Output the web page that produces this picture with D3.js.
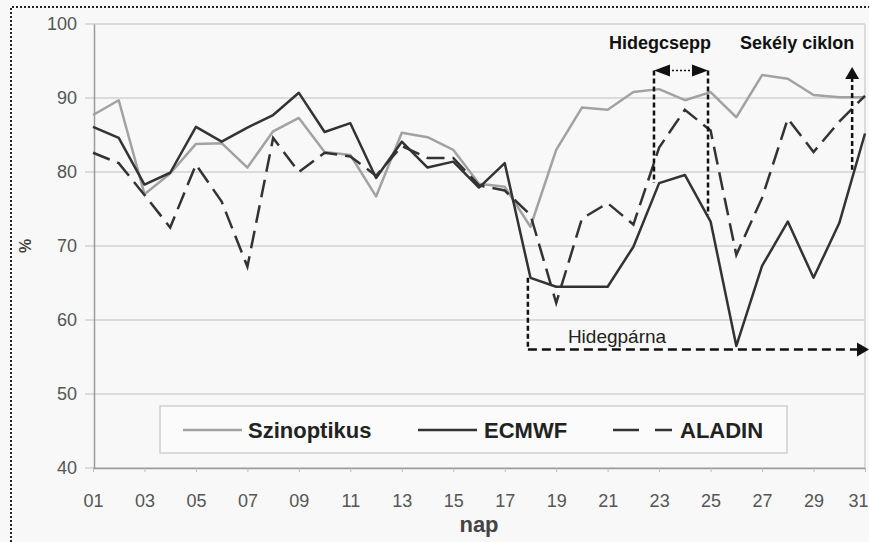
<!DOCTYPE html>
<html>
<head>
<meta charset="utf-8">
<script src="https://cdn.jsdelivr.net/npm/d3@7/dist/d3.min.js"></script>
<style>
  body { margin: 0; background: #f8f8f8; }
  text { font-family: "Liberation Sans", Arial, sans-serif; }
</style>
</head>
<body>
<script>
'use strict';

// napok (x kategóriák)
let days = [1, 2, 3, 4, 5, 6, 7, 8, 9, 10, 11, 12, 13, 14, 15, 16,
            17, 18, 19, 20, 21, 22, 23, 24, 25, 26, 27, 28, 29, 30, 31];
let dayTicks = [1, 3, 5, 7, 9, 11, 13, 15, 17, 19, 21, 23, 25, 27, 29, 31];
let yTicks = [40, 50, 60, 70, 80, 90, 100];

let szinoptikus = [87.7, 89.7, 77.0, 79.8, 83.8, 83.9, 80.6, 85.5, 87.3, 82.7, 82.3,
                   76.7, 85.3, 84.7, 83.0, 78.4, 78.0, 72.6, 83.0, 88.7, 88.4, 90.8,
                   91.2, 89.7, 90.8, 87.4, 93.1, 92.6, 90.4, 90.1, 90.1];
let ecmwf = [86.1, 84.6, 78.3, 79.9, 86.1, 84.1, 86.0, 87.7, 90.7, 85.4, 86.6,
             79.2, 84.1, 80.6, 81.4, 77.9, 81.2, 65.7, 64.5, 64.5, 64.5, 69.9,
             78.5, 79.6, 73.3, 56.5, 67.3, 73.3, 65.7, 73.1, 85.2];
let aladin = [82.6, 81.2, 76.9, 72.5, 81.0, 76.0, 67.2, 84.6, 80.0, 82.6, 82.1,
              79.5, 83.5, 81.9, 81.9, 78.2, 77.5, 74.2, 62.3, 73.7, 75.8, 72.9,
              83.3, 88.4, 85.6, 68.8, 76.5, 87.2, 82.7, 86.8, 90.3];

// megjegyzések: [nap, érték]
let hidegcsepp = [[22.8, 93.7, 78.5], [24.9, 93.7, 74.2]];
let sekelyCiklon = [30.5, 94.2, 80.3];
let hidegparna = [17.9, 65.7, 56.0, 31.0];

let width = 869,
    height = 542,
    mLeft = 93, mRight = 865, mTop = 24, mBottom = 468;

let svg = d3.select("body").append("svg")
            .attr("width", width)
            .attr("height", height);

// szaggatott keret a kép szélén
svg.append("path")
    .attr("d", "M11,542 L11,7 L869,7")
    .style("fill", "none")
    .style("stroke", "#222")
    .style("stroke-width", 2)
    .style("stroke-dasharray", "2,2");

let x = d3.scaleLinear().domain([1, 31]).range([mLeft, mRight]),
    y = d3.scaleLinear().domain([40, 100]).range([mBottom, mTop]);

// rácsvonalak
svg.append("g")
  .selectAll("line")
  .data(yTicks)
  .join("line")
    .attr("x1", mLeft - 8)
    .attr("x2", mRight)
    .attr("y1", d => y(d))
    .attr("y2", d => y(d))
    .style("stroke", "#d2d2d2")
    .style("stroke-width", 1.5);

svg.append("line")
    .attr("x1", mRight).attr("x2", mRight)
    .attr("y1", y(100)).attr("y2", y(40))
    .style("stroke", "#d2d2d2")
    .style("stroke-width", 1.5);

let yAxis = svg.append("g")
    .attr("transform", `translate(${mLeft + 1},0)`)
    .call(d3.axisLeft(y).tickValues(yTicks).tickSize(0).tickPadding(17));
yAxis.select(".domain").style("stroke", "#9a9a9a").style("stroke-width", 1.5);
yAxis.selectAll("text")
    .style("font-size", "18px")
    .style("fill", "#555");

let xAxis = svg.append("g")
    .attr("transform", `translate(0,${mBottom})`)
    .call(d3.axisBottom(x)
            .tickValues(dayTicks)
            .tickFormat(d3.format("02"))
            .tickSizeInner(4)
            .tickSizeOuter(0)
            .tickPadding(22));
xAxis.select(".domain").style("stroke", "#9a9a9a").style("stroke-width", 1.5);
xAxis.selectAll("line").style("stroke", "#bbb");
xAxis.selectAll("text")
    .style("font-size", "18px")
    .style("fill", "#555");
// az utolsó felirat a szélen
xAxis.selectAll("text")
    .filter(d => d === 31)
    .attr("text-anchor", "end")
    .attr("x", 3);

svg.append("text")
    .attr("x", x(16))
    .attr("y", 532)
    .attr("text-anchor", "middle")
    .style("font-size", "22px")
    .style("font-weight", "bold")
    .style("fill", "#444")
    .text("nap");

svg.append("text")
    .attr("transform", `translate(31,${y(70)}) rotate(-90)`)
    .attr("text-anchor", "middle")
    .style("font-size", "16px")
    .style("font-weight", "bold")
    .style("fill", "#444")
    .text("%");

// adatsorok
let line = d3.line()
    .x((d, i) => x(days[i]))
    .y(d => y(d));

svg.append("path")
    .datum(szinoptikus)
    .attr("d", line)
    .style("fill", "none")
    .style("stroke", "#a2a2a2")
    .style("stroke-width", 2.5)
    .style("stroke-linejoin", "round");

svg.append("path")
    .datum(ecmwf)
    .attr("d", line)
    .style("fill", "none")
    .style("stroke", "#333")
    .style("stroke-width", 2.5)
    .style("stroke-linejoin", "round");

svg.append("path")
    .datum(aladin)
    .attr("d", line)
    .style("fill", "none")
    .style("stroke", "#333")
    .style("stroke-width", 2.5)
    .style("stroke-dasharray", "18,8");

// megjegyzések
let ann = svg.append("g").style("fill", "#111").style("stroke", "#111");

hidegcsepp.forEach(h => {
  ann.append("line")
      .attr("x1", x(h[0])).attr("x2", x(h[0]))
      .attr("y1", y(h[1])).attr("y2", y(h[2]))
      .style("stroke-width", 2.5)
      .style("stroke-dasharray", "5,3");
});

let ax1 = x(hidegcsepp[0][0]), ax2 = x(hidegcsepp[1][0]), ay = y(hidegcsepp[0][1]);
ann.append("line")
    .attr("x1", ax1 + 14).attr("x2", ax2 - 14)
    .attr("y1", ay).attr("y2", ay)
    .style("stroke-width", 1.5)
    .style("stroke-dasharray", "2,2");
ann.append("path")
    .attr("d", `M${ax1},${ay} L${ax1 + 16},${ay - 6} L${ax1 + 16},${ay + 6}Z`)
    .style("stroke", "none");
ann.append("path")
    .attr("d", `M${ax2},${ay} L${ax2 - 16},${ay - 6} L${ax2 - 16},${ay + 6}Z`)
    .style("stroke", "none");

ann.append("text")
    .attr("x", ax1 + 6)
    .attr("y", y(96.6))
    .attr("text-anchor", "middle")
    .style("stroke", "none")
    .style("font-size", "18px")
    .style("font-weight", "bold")
    .text("Hidegcsepp");

let sx = x(sekelyCiklon[0]), sy = y(sekelyCiklon[1]);
ann.append("line")
    .attr("x1", sx).attr("x2", sx)
    .attr("y1", sy + 10).attr("y2", y(sekelyCiklon[2]))
    .style("stroke-width", 2.5)
    .style("stroke-dasharray", "5,3");
ann.append("path")
    .attr("d", `M${sx},${sy} L${sx - 7},${sy + 12} L${sx + 7},${sy + 12}Z`)
    .style("stroke", "none");
ann.append("text")
    .attr("x", sx - 55)
    .attr("y", y(96.6))
    .attr("text-anchor", "middle")
    .style("stroke", "none")
    .style("font-size", "18px")
    .style("font-weight", "bold")
    .text("Sekély ciklon");

let px = x(hidegparna[0]), py = y(hidegparna[2]), pxe = x(hidegparna[3]);
ann.append("line")
    .attr("x1", px).attr("x2", px)
    .attr("y1", y(hidegparna[1])).attr("y2", py)
    .style("stroke-width", 2.5)
    .style("stroke-dasharray", "5,3");
ann.append("line")
    .attr("x1", px).attr("x2", pxe - 6)
    .attr("y1", py).attr("y2", py)
    .style("stroke-width", 2.5)
    .style("stroke-dasharray", "9,5");
ann.append("path")
    .attr("d", `M${pxe + 4},${py} L${pxe - 8},${py - 7} L${pxe - 8},${py + 7}Z`)
    .style("stroke", "none");
ann.append("text")
    .attr("x", px + 40)
    .attr("y", py - 7)
    .style("stroke", "none")
    .style("fill", "#222")
    .style("font-size", "19px")
    .text("Hidegpárna");

// jelmagyarázat
let legend = svg.append("g");
legend.append("rect")
    .attr("x", 160).attr("y", 406)
    .attr("width", 627).attr("height", 47)
    .style("fill", "#fbfbfb")
    .style("stroke", "#cfcfcf")
    .style("stroke-width", 1.5);

let items = [
  {name: "Szinoptikus", lx: 183, tx: 248, color: "#a2a2a2", dash: null},
  {name: "ECMWF", lx: 418, tx: 484, color: "#333", dash: null},
  {name: "ALADIN", lx: 613, tx: 680, color: "#333", dash: "26,16"}
];

items.forEach(it => {
  legend.append("line")
      .attr("x1", it.lx).attr("x2", it.lx + 59)
      .attr("y1", 430).attr("y2", 430)
      .style("stroke", it.color)
      .style("stroke-width", 2.5)
      .style("stroke-dasharray", it.dash);
  legend.append("text")
      .attr("x", it.tx)
      .attr("y", 438)
      .style("font-size", "22px")
      .style("font-weight", "bold")
      .style("fill", "#222")
      .text(it.name);
});
</script>
</body>
</html>
